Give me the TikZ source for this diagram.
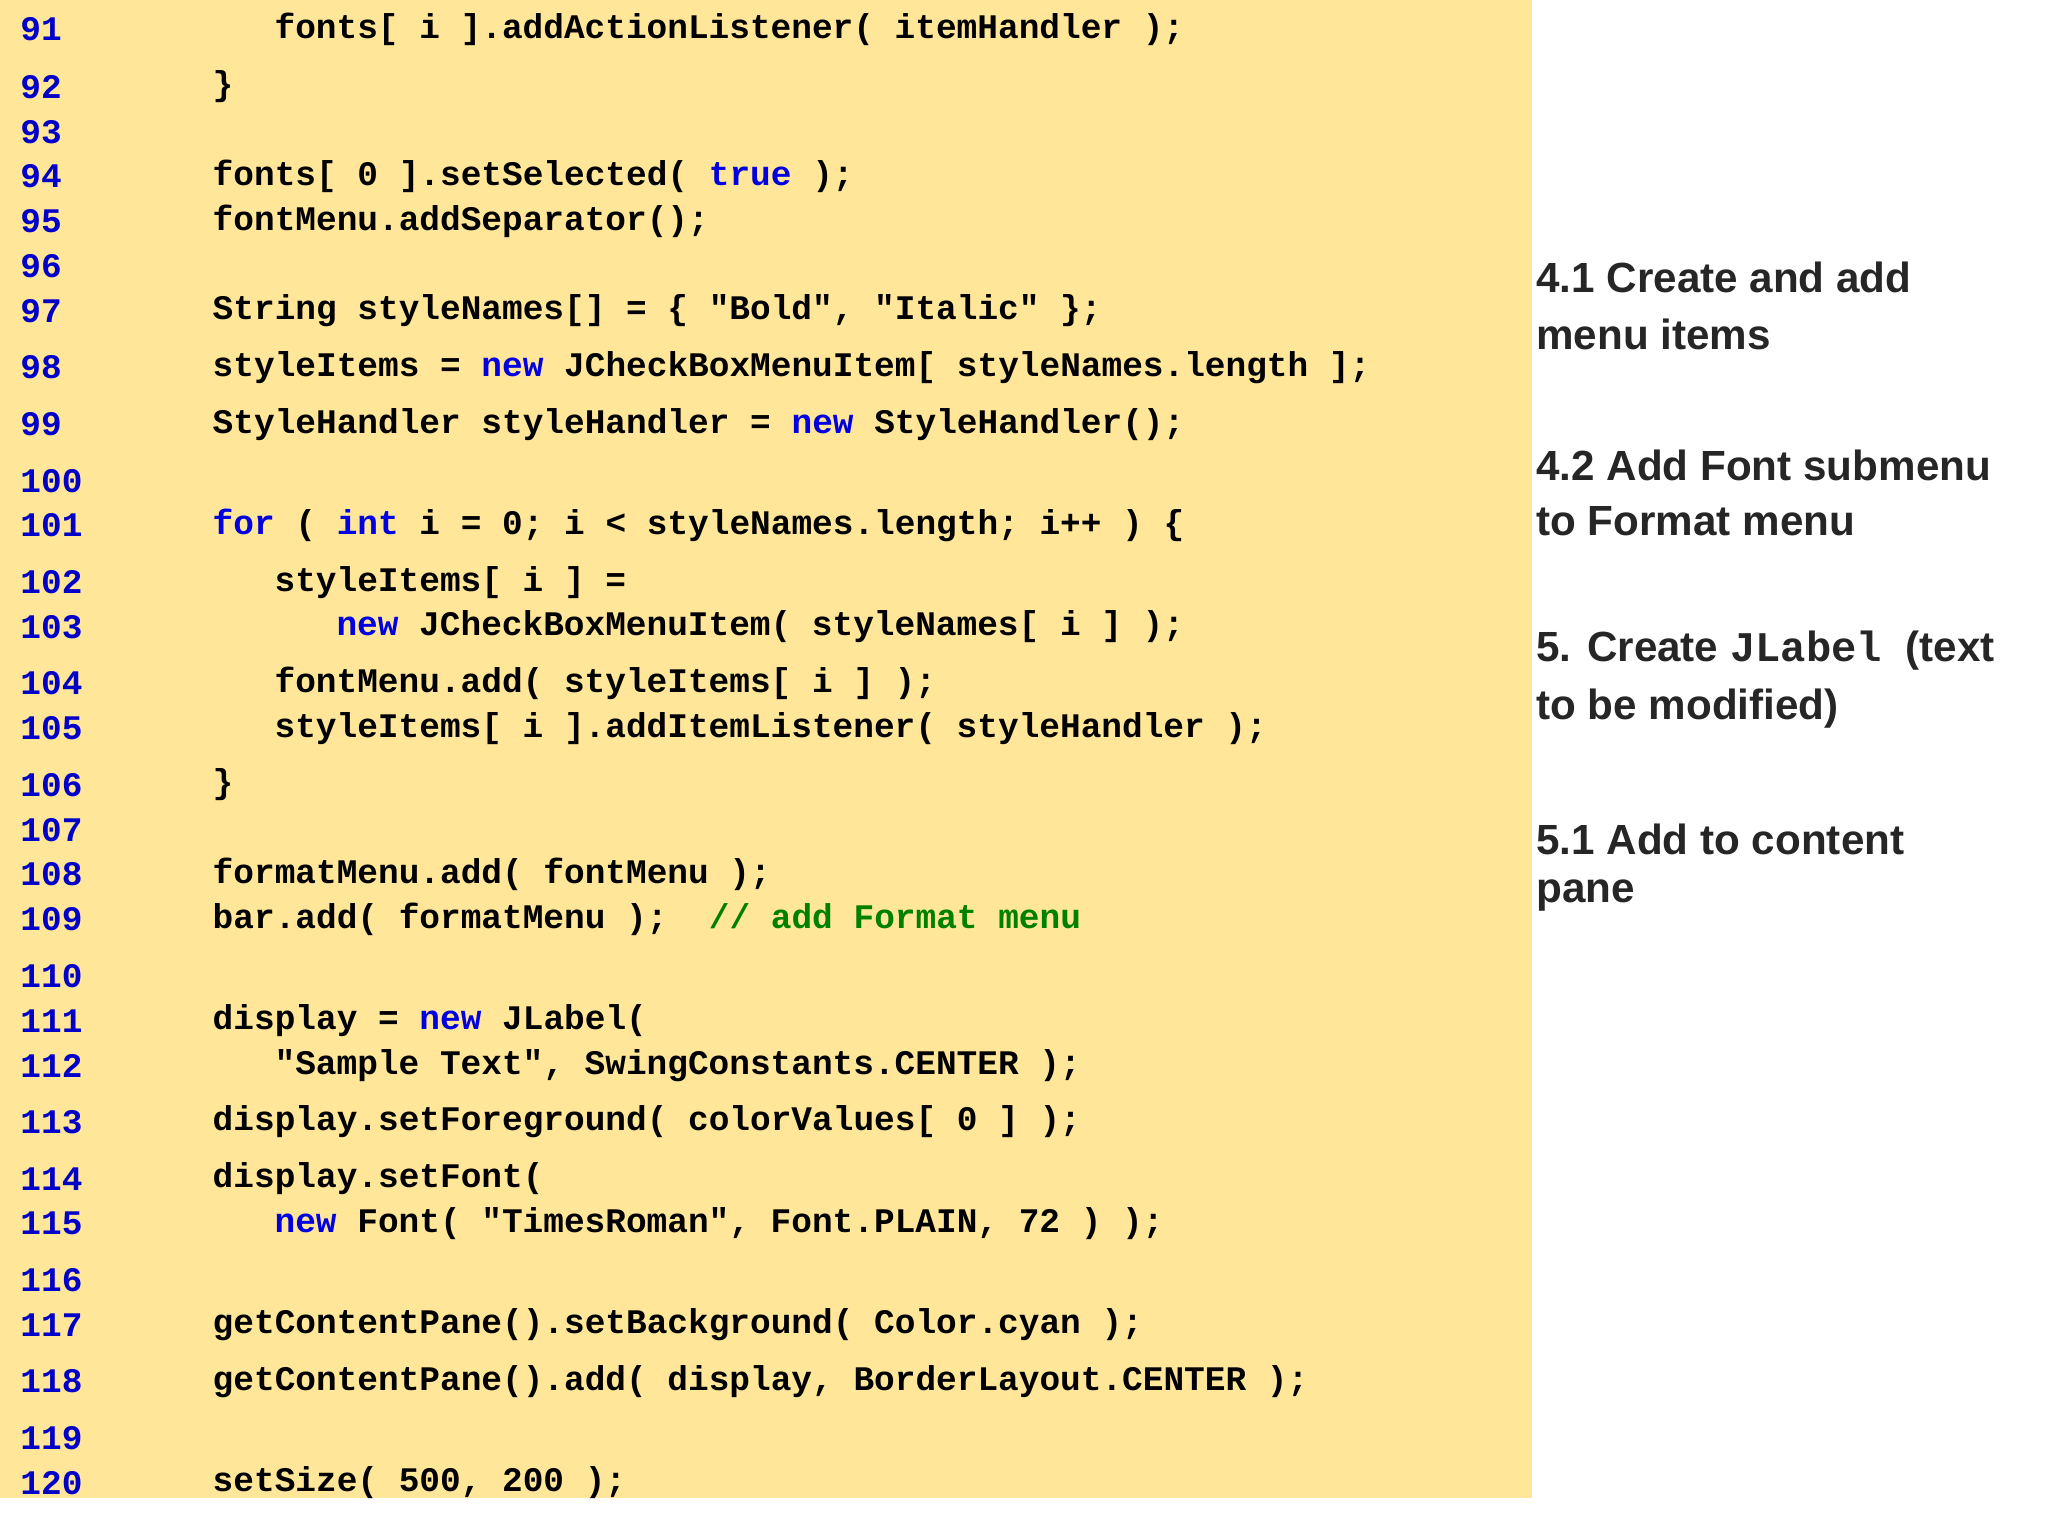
\documentclass[tikz,border=0pt]{standalone}
\usepackage{fontspec}
\setmainfont{Liberation Sans}
\setmonofont{Liberation Mono}
\definecolor{bgy}{HTML}{FFE699}
\definecolor{kwb}{HTML}{0000E0}
\definecolor{numb}{HTML}{0000C8}
\definecolor{cmg}{HTML}{008000}
\newcommand{\kw}[1]{\textcolor{kwb}{#1}}
\newcommand{\cmt}[1]{\textcolor{cmg}{#1}}
\tikzset{
 num/.style={anchor=west,inner sep=0pt,font=\ttfamily\bfseries\fontsize{9.8}{11}\selectfont,text=numb},
 code/.style={anchor=west,inner sep=0pt,font=\ttfamily\bfseries\fontsize{9.8}{11}\selectfont,text=black},
 note/.style={anchor=west,inner sep=0pt,font=\bfseries\fontsize{12}{14}\selectfont,text=black!85}
}
\begin{document}
\begin{tikzpicture}[x=0.01317cm,y=-0.01317cm]
\useasboundingbox (0,0) rectangle (1555,1166);
\fill[white] (0,0) rectangle (1555,1166);
\fill[bgy] (0,0) rectangle (1163,1137);
\foreach \n/\y in {91/22,92/66,93/100,94/134,95/168,96/202,97/236,98/279,99/322,100/365,101/399,102/442,103/476,104/519,105/553,106/596,107/630,108/664,109/698,110/741,111/775,112/809,113/852,114/895,115/929,116/972,117/1006,118/1049,119/1092,120/1126}
  \node[num] (n\n) at (15,\y) {\n};
\def\A{161}\def\B{208}\def\C{255}
\node[code] (c91) at (\B,22) {fonts[ i ].addActionListener( itemHandler );};
\node[code] (c92) at (\A,66) {\}};
\node[code] (c94) at (\A,134) {fonts[ 0 ].setSelected( \kw{true} );};
\node[code] (c95) at (\A,168) {fontMenu.addSeparator();};
\node[code] (c97) at (\A,236) {String styleNames[] = \{ "Bold", "Italic" \};};
\node[code] (c98) at (\A,279) {styleItems = \kw{new} JCheckBoxMenuItem[ styleNames.length ];};
\node[code] (c99) at (\A,322) {StyleHandler styleHandler = \kw{new} StyleHandler();};
\node[code] (c101) at (\A,399) {\kw{for} ( \kw{int} i = 0; i < styleNames.length; i++ ) \{};
\node[code] (c102) at (\B,442) {styleItems[ i ] =};
\node[code] (c103) at (\C,476) {\kw{new} JCheckBoxMenuItem( styleNames[ i ] );};
\node[code] (c104) at (\B,519) {fontMenu.add( styleItems[ i ] );};
\node[code] (c105) at (\B,553) {styleItems[ i ].addItemListener( styleHandler );};
\node[code] (c106) at (\A,596) {\}};
\node[code] (c108) at (\A,664) {formatMenu.add( fontMenu );};
\node[code] (c109) at (\A,698) {bar.add( formatMenu );\ \ \cmt{// add Format menu}};
\node[code] (c111) at (\A,775) {display = \kw{new} JLabel(};
\node[code] (c112) at (\B,809) {"Sample Text", SwingConstants.CENTER );};
\node[code] (c113) at (\A,852) {display.setForeground( colorValues[ 0 ] );};
\node[code] (c114) at (\A,895) {display.setFont(};
\node[code] (c115) at (\B,929) {\kw{new} Font( "TimesRoman", Font.PLAIN, 72 ) );};
\node[code] (c117) at (\A,1006) {getContentPane().setBackground( Color.cyan );};
\node[code] (c118) at (\A,1049) {getContentPane().add( display, BorderLayout.CENTER );};
\node[code] (c120) at (\A,1126) {setSize( 500, 200 );};
\node[note] (t1a) at (1166,211) {4.1 Create and add};
\node[note] (t1b) at (1166,254) {menu items};
\node[note] (t2a) at (1166,353) {4.2 Add Font submenu};
\node[note] (t2b) at (1166,396) {to Format menu};
\node[note] (t3a) at (1166,494) {5. Create {\ttfamily JLabel}\ \ (text};
\node[note] (t3b) at (1166,538) {to be modified)};
\node[note] (t4a) at (1166,637) {5.1 Add to content};
\node[note] (t4b) at (1166,680) {pane};
\end{tikzpicture}
\end{document}
